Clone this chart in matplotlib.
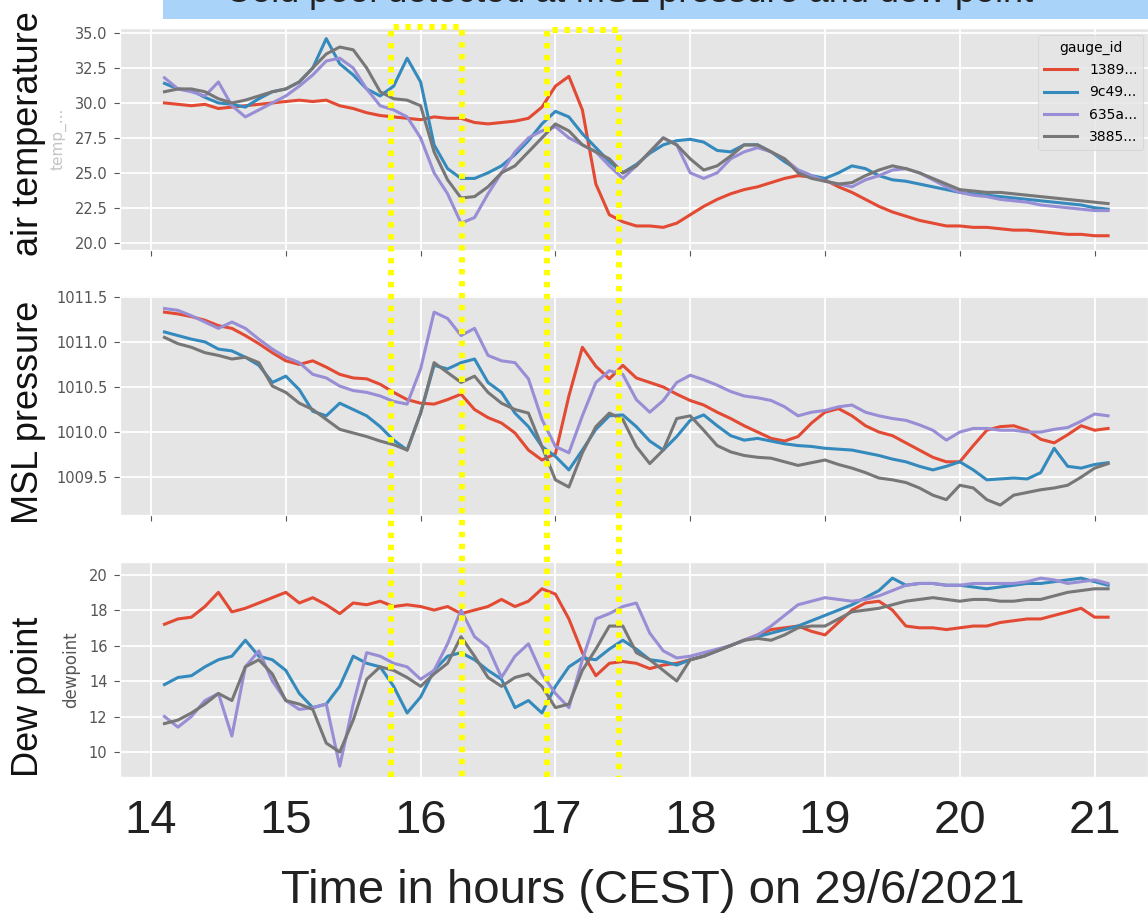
import matplotlib
matplotlib.use("Agg")
import matplotlib.pyplot as plt
from matplotlib.lines import Line2D
from matplotlib.patches import Rectangle
from matplotlib.ticker import FormatStrFormatter
from matplotlib.transforms import blended_transform_factory
import numpy as np

plt.style.use("ggplot")

# time axis: hours (CEST) on 29/6/2021, read every 6 minutes
hours = np.round(np.arange(14.1, 21.15, 0.1), 1)
hour_ticks = [14, 15, 16, 17, 18, 19, 20, 21]
gauges = ["1389...", "9c49...", "635a...", "3885..."]
colors = ["#E24A33", "#348ABD", "#988ED5", "#777777"]

# air temperature (degC)
temp_1389 = [30.0, 29.9, 29.8, 29.9, 29.6, 29.7, 29.8, 29.9, 30.0, 30.1,
             30.2, 30.1, 30.2, 29.8, 29.6, 29.3, 29.1, 29.0, 28.9, 28.8,
             29.0, 28.9, 28.9, 28.6, 28.5, 28.6, 28.7, 28.9, 29.7, 31.2,
             31.9, 29.5, 24.2, 22.0, 21.5, 21.2, 21.2, 21.1, 21.4, 22.0,
             22.6, 23.1, 23.5, 23.8, 24.0, 24.3, 24.6, 24.8, 24.7, 24.5,
             24.0, 23.6, 23.1, 22.6, 22.2, 21.9, 21.6, 21.4, 21.2, 21.2,
             21.1, 21.1, 21.0, 20.9, 20.9, 20.8, 20.7, 20.6, 20.6, 20.5,
             20.5]
temp_9c49 = [31.4, 31.0, 30.9, 30.4, 30.0, 29.9, 29.7, 30.3, 30.8, 31.0,
             31.5, 32.5, 34.6, 32.8, 32.0, 31.0, 30.5, 31.2, 33.2, 31.5,
             27.0, 25.3, 24.6, 24.6, 25.0, 25.5, 26.3, 27.3, 28.5, 29.4,
             29.0, 27.8, 26.8, 25.8, 25.0, 25.6, 26.4, 27.0, 27.3, 27.4,
             27.2, 26.6, 26.5, 27.0, 27.0, 26.5, 25.8, 25.2, 24.8, 24.6,
             25.0, 25.5, 25.3, 24.8, 24.5, 24.4, 24.2, 24.0, 23.8, 23.6,
             23.5, 23.4, 23.3, 23.2, 23.1, 23.0, 22.9, 22.8, 22.7, 22.5,
             22.4]
temp_635a = [31.8, 31.0, 30.8, 30.5, 31.5, 29.8, 29.0, 29.5, 30.0, 30.5,
             31.2, 32.0, 33.0, 33.2, 32.5, 31.0, 29.8, 29.5, 29.0, 27.5,
             25.0, 23.5, 21.4, 21.8, 23.5, 25.0, 26.5, 27.5, 28.0, 28.3,
             27.5, 27.0, 26.5, 25.5, 24.6, 25.5, 26.5, 27.5, 27.0, 25.0,
             24.6, 25.0, 26.0, 26.5, 26.8, 26.5, 26.0, 25.2, 24.8, 24.4,
             24.2, 24.0, 24.5, 24.8, 25.2, 25.3, 25.0, 24.5, 24.0, 23.6,
             23.4, 23.3, 23.1, 23.0, 22.9, 22.7, 22.6, 22.5, 22.4, 22.3,
             22.3]
temp_3885 = [30.8, 31.0, 31.0, 30.8, 30.3, 30.0, 30.2, 30.5, 30.8, 31.0,
             31.5, 32.5, 33.5, 34.0, 33.8, 32.5, 30.8, 30.3, 30.2, 29.8,
             26.5, 24.5, 23.2, 23.3, 24.0, 25.0, 25.5, 26.5, 27.5, 28.5,
             28.0, 27.0, 26.5, 26.0, 25.0, 25.5, 26.5, 27.5, 27.0, 26.0,
             25.2, 25.5, 26.2, 27.0, 27.0, 26.5, 26.0, 25.0, 24.6, 24.4,
             24.2, 24.3, 24.8, 25.2, 25.5, 25.3, 25.0, 24.6, 24.2, 23.8,
             23.7, 23.6, 23.6, 23.5, 23.4, 23.3, 23.2, 23.1, 23.0, 22.9,
             22.8]

# MSL pressure (hPa)
pres_1389 = [1011.33, 1011.31, 1011.28, 1011.24, 1011.18, 1011.15, 1011.07, 1010.98, 1010.88, 1010.79,
             1010.75, 1010.79, 1010.72, 1010.64, 1010.60, 1010.59, 1010.53, 1010.44, 1010.36, 1010.32,
             1010.31, 1010.36, 1010.42, 1010.25, 1010.16, 1010.10, 1009.99, 1009.80, 1009.69, 1009.76,
             1010.40, 1010.94, 1010.73, 1010.59, 1010.74, 1010.60, 1010.55, 1010.50, 1010.42, 1010.35,
             1010.30, 1010.22, 1010.15, 1010.07, 1010.00, 1009.93, 1009.90, 1009.95, 1010.10, 1010.22,
             1010.26, 1010.18, 1010.07, 1010.00, 1009.96, 1009.88, 1009.80, 1009.72, 1009.67, 1009.67,
             1009.85, 1010.02, 1010.06, 1010.07, 1010.02, 1009.92, 1009.88, 1009.97, 1010.07, 1010.02,
             1010.04]
pres_9c49 = [1011.11, 1011.07, 1011.03, 1011.00, 1010.92, 1010.90, 1010.83, 1010.74, 1010.55, 1010.62,
             1010.47, 1010.23, 1010.18, 1010.32, 1010.25, 1010.18, 1010.06, 1009.91, 1009.80, 1010.21,
             1010.74, 1010.70, 1010.77, 1010.81, 1010.55, 1010.44, 1010.21, 1010.06, 1009.84, 1009.73,
             1009.58, 1009.80, 1010.03, 1010.18, 1010.19, 1010.06, 1009.90, 1009.80, 1009.95, 1010.13,
             1010.19, 1010.07, 1009.96, 1009.91, 1009.93, 1009.90, 1009.87, 1009.85, 1009.84, 1009.82,
             1009.81, 1009.80, 1009.77, 1009.74, 1009.70, 1009.67, 1009.62, 1009.58, 1009.62, 1009.67,
             1009.58, 1009.47, 1009.48, 1009.49, 1009.48, 1009.55, 1009.82, 1009.62, 1009.60, 1009.64,
             1009.66]
pres_635a = [1011.37, 1011.35, 1011.29, 1011.22, 1011.15, 1011.22, 1011.15, 1011.03, 1010.92, 1010.83,
             1010.77, 1010.64, 1010.60, 1010.51, 1010.46, 1010.44, 1010.40, 1010.34, 1010.31, 1010.70,
             1011.33, 1011.26, 1011.07, 1011.15, 1010.85, 1010.79, 1010.77, 1010.59, 1010.14, 1009.84,
             1009.77, 1010.18, 1010.55, 1010.68, 1010.64, 1010.36, 1010.22, 1010.35, 1010.55, 1010.63,
             1010.58, 1010.52, 1010.45, 1010.40, 1010.38, 1010.35, 1010.28, 1010.18, 1010.22, 1010.24,
             1010.28, 1010.30, 1010.22, 1010.18, 1010.15, 1010.13, 1010.08, 1010.02, 1009.91, 1010.00,
             1010.04, 1010.04, 1010.02, 1010.02, 1010.00, 1010.00, 1010.03, 1010.05, 1010.12, 1010.20,
             1010.18]
pres_3885 = [1011.05, 1010.98, 1010.94, 1010.88, 1010.85, 1010.81, 1010.83, 1010.77, 1010.51, 1010.44,
             1010.32, 1010.25, 1010.14, 1010.03, 1009.99, 1009.95, 1009.90, 1009.86, 1009.80, 1010.21,
             1010.77, 1010.66, 1010.55, 1010.62, 1010.44, 1010.32, 1010.25, 1010.21, 1009.84, 1009.47,
             1009.39, 1009.77, 1010.06, 1010.21, 1010.14, 1009.84, 1009.65, 1009.80, 1010.15, 1010.18,
             1010.02, 1009.85, 1009.78, 1009.74, 1009.72, 1009.71, 1009.67, 1009.63, 1009.66, 1009.69,
             1009.64, 1009.60, 1009.55, 1009.49, 1009.47, 1009.44, 1009.38, 1009.30, 1009.25, 1009.41,
             1009.38, 1009.25, 1009.19, 1009.30, 1009.33, 1009.36, 1009.38, 1009.41, 1009.50, 1009.60,
             1009.65]

# dew point (degC)
dew_1389 = [17.2, 17.5, 17.6, 18.2, 19.0, 17.9, 18.1, 18.4, 18.7, 19.0,
            18.4, 18.7, 18.3, 17.8, 18.4, 18.3, 18.5, 18.2, 18.3, 18.2,
            18.0, 18.2, 17.8, 18.0, 18.2, 18.6, 18.2, 18.5, 19.2, 18.9,
            17.5, 15.6, 14.3, 15.0, 15.1, 15.0, 14.7, 14.9, 15.0, 15.2,
            15.4, 15.7, 16.0, 16.3, 16.6, 16.9, 17.0, 17.1, 16.8, 16.6,
            17.3, 18.0, 18.4, 18.5, 18.0, 17.1, 17.0, 17.0, 16.9, 17.0,
            17.1, 17.1, 17.3, 17.4, 17.5, 17.5, 17.7, 17.9, 18.1, 17.6,
            17.6]
dew_9c49 = [13.8, 14.2, 14.3, 14.8, 15.2, 15.4, 16.3, 15.4, 15.2, 14.6,
            13.3, 12.5, 12.7, 13.7, 15.4, 15.0, 14.8, 13.7, 12.2, 13.1,
            14.6, 15.4, 15.6, 15.2, 14.6, 14.1, 12.5, 12.9, 12.2, 13.7,
            14.8, 15.3, 15.2, 15.8, 16.3, 15.8, 15.2, 15.1, 14.9, 15.2,
            15.4, 15.7, 16.0, 16.3, 16.5, 16.7, 16.9, 17.1, 17.4, 17.7,
            18.0, 18.3, 18.7, 19.1, 19.8, 19.4, 19.5, 19.5, 19.4, 19.4,
            19.3, 19.2, 19.3, 19.4, 19.5, 19.5, 19.6, 19.7, 19.8, 19.6,
            19.4]
dew_635a = [12.0, 11.4, 12.0, 12.9, 13.3, 10.9, 14.8, 15.7, 14.0, 12.9,
            12.4, 12.5, 12.7, 9.2, 12.7, 15.6, 15.4, 15.0, 14.8, 14.1,
            14.6, 16.1, 18.0, 16.5, 15.9, 14.2, 15.4, 16.1, 14.4, 13.3,
            12.5, 15.2, 17.5, 17.8, 18.2, 18.4, 16.7, 15.7, 15.3, 15.4,
            15.6, 15.8, 16.0, 16.3, 16.6, 17.1, 17.7, 18.3, 18.5, 18.7,
            18.6, 18.5, 18.6, 18.8, 19.1, 19.4, 19.5, 19.5, 19.4, 19.4,
            19.5, 19.5, 19.5, 19.5, 19.6, 19.8, 19.7, 19.5, 19.6, 19.7,
            19.5]
dew_3885 = [11.6, 11.8, 12.2, 12.7, 13.3, 12.9, 14.8, 15.2, 14.4, 12.9,
            12.7, 12.4, 10.5, 10.0, 11.8, 14.1, 14.8, 14.6, 14.2, 13.7,
            14.4, 15.0, 16.5, 15.4, 14.2, 13.7, 14.2, 14.4, 13.7, 12.5,
            12.7, 14.6, 15.8, 17.1, 17.1, 15.6, 15.2, 14.6, 14.0, 15.2,
            15.4, 15.7, 16.0, 16.3, 16.4, 16.3, 16.6, 17.0, 17.1, 17.1,
            17.5, 17.9, 18.0, 18.1, 18.3, 18.5, 18.6, 18.7, 18.6, 18.5,
            18.6, 18.6, 18.5, 18.5, 18.6, 18.6, 18.8, 19.0, 19.1, 19.2,
            19.2]

# cold pool windows (hours) marked with yellow boxes
event_windows = [(15.78, 16.31), (16.94, 17.47)]

W, H = 1148, 918
fig = plt.figure(figsize=(W / 100, H / 100), dpi=100)

def fy(px):
    return 1 - px / H

left = 120 / W
ax1 = fig.add_axes([left, fy(250), 1 - left, (250 - 28) / H])
ax2 = fig.add_axes([left, fy(515), 1 - left, (515 - 295) / H])
ax3 = fig.add_axes([left, fy(777), 1 - left, (777 - 562) / H])

panels = [
    (ax1, [temp_1389, temp_9c49, temp_635a, temp_3885], (19.48, 35.36), np.arange(20, 35.1, 2.5), "%.1f"),
    (ax2, [pres_1389, pres_9c49, pres_635a, pres_3885], (1009.08, 1011.52), np.arange(1009.5, 1011.6, 0.5), "%.1f"),
    (ax3, [dew_1389, dew_9c49, dew_635a, dew_3885], (8.59, 20.71), np.arange(10, 20.1, 2), "%d"),
]
for ax, series, ylim, yt, fmt in panels:
    for vals, name, c in zip(series, gauges, colors):
        ax.plot(hours, vals, color=c, lw=2.2, label=name)
    ax.set_xlim(13.77, 21.396)
    ax.set_ylim(*ylim)
    ax.set_xticks(hour_ticks)
    ax.set_yticks(yt)
    ax.yaxis.set_major_formatter(FormatStrFormatter(fmt))
    ax.grid(color="white", lw=1.3)
    ax.tick_params(axis="y", labelsize=10.5, colors="#555555", length=4, pad=5)
    ax.tick_params(axis="x", colors="#555555", length=4)

ax1.set_xticklabels([])
ax2.set_xticklabels([])
ax3.tick_params(axis="x", length=0, pad=16, labelsize=34, labelcolor="#222222")
for lab in ax3.get_xticklabels():
    lab.set_fontfamily("Liberation Sans")

ax1.set_ylabel("temp_...", fontsize=11, color="#555555", alpha=0.35, labelpad=6)
ax3.set_ylabel("dewpoint", fontsize=12, color="#555555", labelpad=6)

leg = ax1.legend(title="gauge_id", loc="upper left", bbox_to_anchor=(0.893, 0.968),
                 fontsize=10, title_fontsize=10, handlelength=2.4, handletextpad=0.9,
                 labelspacing=0.6, borderpad=0.4, borderaxespad=0)

# big panel labels on the left
big = dict(rotation=90, fontsize=26, ha="center", va="center", color="#111111",
           family="Liberation Sans")
fig.text(29 / W, fy(134), "air temperature", **big)
fig.text(29 / W, fy(412), "MSL pressure", **big)
fig.text(29 / W, fy(697), "Dew point", **big)

fig.text(653 / W, fy(891), "Time in hours (CEST) on 29/6/2021", fontsize=34,
         ha="center", va="center", color="#222222", family="Liberation Sans")

# title banner, its text cut off at the top of the picture as in the source slide
fig.add_artist(Rectangle((163 / W, fy(19)), 1 - 163 / W, 19 / H, transform=fig.transFigure,
                         facecolor="#AAD3FA", edgecolor="none", zorder=0))
fig.text(225 / W, fy(1.5), "Cold pool detected at MSL pressure and dew point", fontsize=26,
         ha="left", va="baseline", color="#222222", family="Liberation Sans")

# yellow dotted boxes around the events
trans = blended_transform_factory(ax1.transData, fig.transFigure)
for (t0, t1), top in zip(event_windows, [27, 30]):
    fig.add_artist(Line2D([t0, t0, t1, t1], [fy(777), fy(top), fy(top), fy(777)],
                          transform=trans, color="#FFFF00", lw=4.3,
                          linestyle=(0, (0.9, 1.1)), zorder=10))

fig.savefig("out.png", dpi=100)
